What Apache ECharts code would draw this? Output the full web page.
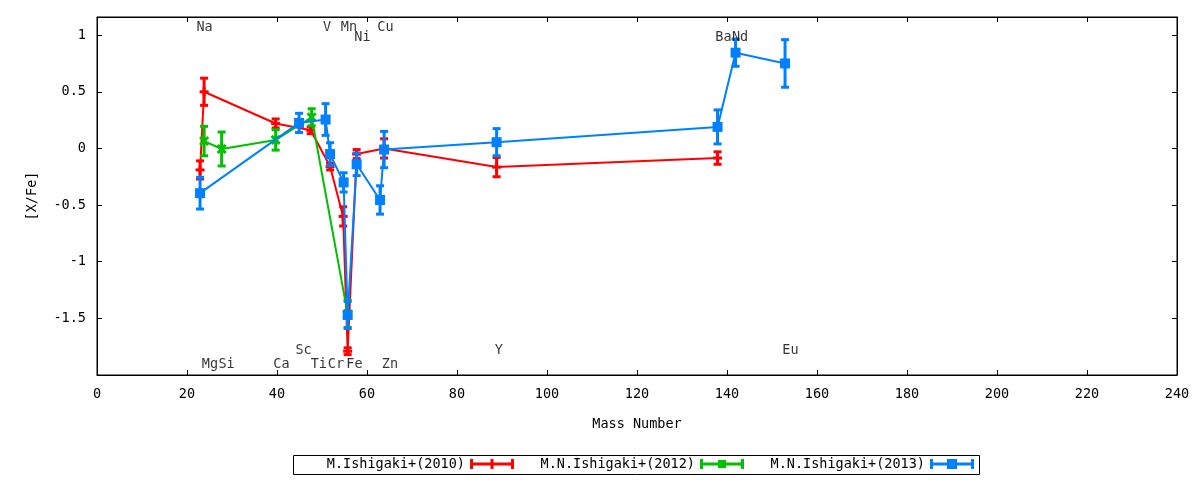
<!DOCTYPE html>
<html>
<head>
<meta charset="utf-8">
<script src="https://cdn.jsdelivr.net/npm/echarts@6/dist/echarts.min.js"></script>
<style>html,body{margin:0;padding:0;background:#fff;}#c{width:1200px;height:480px;}</style>
</head>
<body>
<div id="c"></div>
<script>
// ---- data ----
const seriesNames = ['M.Ishigaki+(2010)', 'M.N.Ishigaki+(2012)', 'M.N.Ishigaki+(2013)'];

const massRed = [22.9, 23.8, 39.7, 47.5, 51.8, 54.7, 55.7, 57.7, 63.8, 88.8, 137.9];
const valRed  = [-0.19, 0.50, 0.22, 0.16, -0.16, -0.60, -1.79, -0.05, 0.00, -0.165, -0.085];
const errRed  = [0.08, 0.12, 0.04, 0.03, 0.03, 0.085, 0.03, 0.04, 0.085, 0.085, 0.055];

const massGreen = [23.8, 27.7, 39.7, 47.7, 55.7];
const valGreen  = [0.065, -0.005, 0.075, 0.275, -1.46];
const errGreen  = [0.13, 0.15, 0.09, 0.075, 0.12];

const massBlue = [22.9, 44.9, 50.8, 51.8, 54.8, 55.7, 57.7, 62.9, 63.8, 88.8, 137.9, 141.9, 152.9];
const valBlue  = [-0.395, 0.225, 0.255, -0.05, -0.30, -1.47, -0.14, -0.455, -0.01, 0.055, 0.19, 0.845, 0.75];
const errBlue  = [0.14, 0.085, 0.14, 0.10, 0.085, 0.12, 0.10, 0.125, 0.16, 0.12, 0.15, 0.12, 0.21];

const elemNames = ['Na', 'V', 'Mn', 'Ni', 'Cu', 'Ba', 'Nd', 'Sc', 'Y', 'Eu', 'Mg', 'Si', 'Ca', 'Ti', 'Cr', 'Fe', 'Zn'];
const elemX     = [23.9, 51.1, 56.0, 59.0, 64.1, 139.2, 142.9, 45.9, 89.3, 154.1, 25.1, 28.8, 41.0, 49.3, 53.1, 57.2, 65.1];
const elemY     = [1.066, 1.066, 1.066, 0.978, 1.066, 0.982, 0.982, -1.785, -1.785, -1.785, -1.905, -1.905, -1.905, -1.905, -1.905, -1.905, -1.905];

const xTickMin = 0, xTickMax = 240, xTickStep = 20;
const yTickMin = -2, yTickMax = 1.16, yTickStep = 0.5;

// ---- styling ----
const FONT = 'DejaVu Sans Mono';
const FS = 13.5;
const colors = ['#ff0000', '#00c000', '#0080ff'];
const markers = ['plus', 'cross', 'square'];
const legendIcons = [
  'path://M0,0H3V10H0Z M41,0H44V10H41Z M0,3.5H44V6.5H0Z M20.5,0H23.5V10H20.5Z',
  'path://M0,0H3V10H0Z M41,0H44V10H41Z M0,3.5H44V6.5H0Z M18,1H26V9H18Z',
  'path://M0,0H3V10H0Z M41,0H44V10H41Z M0,3.5H44V6.5H0Z M17,0H27V10H17Z'
];
const legendRight = [1200 - 514, 1200 - 744, 1200 - 974];

function zip3(a, b, c) { return a.map((v, i) => [v, b[i], c[i]]); }
function zip2(a, b) { return a.map((v, i) => [v, b[i]]); }

function makeRender(color, marker) {
  return function (params, api) {
    const x = api.value(0), y = api.value(1), e = api.value(2);
    const p = api.coord([x, y]);
    const hi = api.coord([x, y + e]);
    const lo = api.coord([x, y - e]);
    const st = { fill: color };
    const ch = [
      { type: 'rect', shape: { x: p[0] - 1.5, y: hi[1], width: 3, height: lo[1] - hi[1] }, style: st },
      { type: 'rect', shape: { x: p[0] - 4, y: hi[1] - 1.5, width: 8, height: 3 }, style: st },
      { type: 'rect', shape: { x: p[0] - 4, y: lo[1] - 1.5, width: 8, height: 3 }, style: st }
    ];
    if (marker === 'square') {
      ch.push({ type: 'rect', shape: { x: p[0] - 5, y: p[1] - 5, width: 10, height: 10 }, style: st });
    } else if (marker === 'plus') {
      ch.push({ type: 'rect', shape: { x: p[0] - 4.5, y: p[1] - 1.5, width: 9, height: 3 }, style: st });
      ch.push({ type: 'rect', shape: { x: p[0] - 1.5, y: p[1] - 4.5, width: 3, height: 9 }, style: st });
    } else {
      const ls = { stroke: color, lineWidth: 3 };
      ch.push({ type: 'line', shape: { x1: p[0] - 4, y1: p[1] - 4, x2: p[0] + 4, y2: p[1] + 4 }, style: ls });
      ch.push({ type: 'line', shape: { x1: p[0] - 4, y1: p[1] + 4, x2: p[0] + 4, y2: p[1] - 4 }, style: ls });
    }
    return { type: 'group', children: ch };
  };
}

const sets = [
  [massRed, valRed, errRed],
  [massGreen, valGreen, errGreen],
  [massBlue, valBlue, errBlue]
];

const series = [];
sets.forEach((s, i) => {
  series.push({
    type: 'line', name: seriesNames[i] + ' line', data: zip2(s[0], s[1]),
    showSymbol: false, symbol: 'none', color: colors[i],
    lineStyle: { width: 2, color: colors[i] }, z: 2 + i * 2, silent: true, animation: false
  });
  series.push({
    type: 'custom', name: seriesNames[i], data: zip3(s[0], s[1], s[2]),
    encode: { x: 0, y: 1 }, renderItem: makeRender(colors[i], markers[i]),
    itemStyle: { color: colors[i] }, color: colors[i], z: 3 + i * 2, silent: true, animation: false
  });
});

series.push({
  type: 'scatter', name: 'labels', symbolSize: 0, z: 20, silent: true, animation: false,
  itemStyle: { color: 'rgba(0,0,0,0)' },
  data: elemNames.map((n, i) => ({ name: n, value: [elemX[i], elemY[i]] })),
  label: { show: true, position: 'inside', formatter: '{b}', color: '#000', fontFamily: FONT, fontSize: FS }
});

const legends = seriesNames.map((n, i) => ({
  data: [{ name: n, icon: legendIcons[i] }],
  right: legendRight[i], top: 457, padding: 0, align: 'right',
  itemWidth: 44, itemHeight: 10, selectedMode: false,
  textStyle: { color: '#000', fontFamily: FONT, fontSize: FS }
}));

const axisCommon = {
  axisLine: { show: true, onZero: false, lineStyle: { color: '#000', width: 1 } },
  axisTick: { show: true, inside: true, length: 5, lineStyle: { color: '#000' } },
  splitLine: { show: false }
};

const option = {
  animation: false,
  backgroundColor: '#fff',
  grid: { left: 97, right: 23, top: 17, bottom: 105, show: true, borderColor: '#000', borderWidth: 1, containLabel: false },
  legend: legends,
  graphic: [{
    type: 'rect', left: 293, top: 455, z: -1,
    shape: { width: 686, height: 19 },
    style: { fill: '#fff', stroke: '#000', lineWidth: 1 }
  }],
  xAxis: [
    Object.assign({
      type: 'value', position: 'bottom', min: xTickMin, max: xTickMax, interval: xTickStep,
      name: 'Mass Number', nameLocation: 'middle', nameGap: 42,
      nameTextStyle: { color: '#000', fontFamily: FONT, fontSize: FS },
      axisLabel: { color: '#000', fontFamily: FONT, fontSize: FS, margin: 12 }
    }, axisCommon),
    Object.assign({
      type: 'value', position: 'top', min: xTickMin, max: xTickMax, interval: xTickStep,
      axisLabel: { show: false }
    }, axisCommon)
  ],
  yAxis: [
    Object.assign({
      type: 'value', position: 'left', min: yTickMin, max: yTickMax, interval: yTickStep,
      name: '[X/Fe]', nameLocation: 'middle', nameGap: 58,
      nameTextStyle: { color: '#000', fontFamily: FONT, fontSize: FS },
      axisLabel: {
        color: '#000', fontFamily: FONT, fontSize: FS, margin: 11,
        showMinLabel: false, showMaxLabel: false,
        formatter: function (v) { return (Math.abs(v - yTickMin) < 1e-9 || v > 1.05) ? '' : String(v); }
      }
    }, axisCommon),
    Object.assign({
      type: 'value', position: 'right', min: yTickMin, max: yTickMax, interval: yTickStep,
      axisLabel: { show: false }
    }, axisCommon)
  ],
  series: series
};

const chart = echarts.init(document.getElementById('c'));
chart.setOption(option);
</script>
</body>
</html>
